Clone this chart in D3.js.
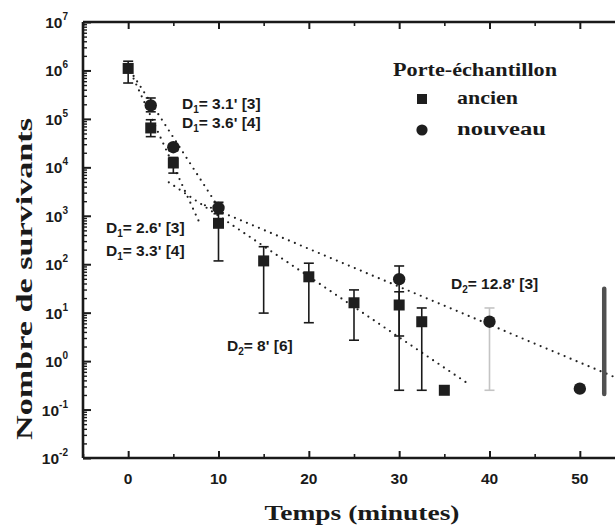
<!DOCTYPE html>
<html>
<head>
<meta charset="utf-8">
<script src="https://cdn.jsdelivr.net/npm/d3@7/dist/d3.min.js"></script>
<style>
  html, body { margin: 0; padding: 0; background: #fff; }
  svg { display: block; }
</style>
</head>
<body>
<svg id="chart" width="615" height="525"></svg>
<script>
// Survivors over time for the two sample holders (log scale)
const xTicks = [0, 10, 20, 30, 40, 50];
const xMinorTicks = [-5, 5, 15, 25, 35, 45];
const yExponents = [-2, -1, 0, 1, 2, 3, 4, 5, 6, 7];

// "ancien" sample holder (squares)
const ancienTimes = [0, 2.5, 5, 10, 15, 20, 25, 30, 32.5, 35];
const ancienValues = [1.1e6, 6.5e4, 1.23e4, 7e2, 117, 55, 16, 14.4, 6.5, 0.25];
const ancienLow = [5.5e5, 4.3e4, 7.6e3, 117, 9.8, 6.2, 2.7, 0.25, 0.25, null];
const ancienHigh = [1.55e6, 9.6e4, 1.6e4, 1.3e3, 230, 105, 29.5, 27, 12.5, null];

// "nouveau" sample holder (circles)
const nouveauTimes = [2.5, 5, 10, 30, 40, 50];
const nouveauValues = [1.9e5, 2.6e4, 1.45e3, 49, 6.5, 0.27];
const nouveauLow = [1.4e5, 2.2e4, 1.1e3, 3.3, 0.25, null];
const nouveauHigh = [2.7e5, 3.0e4, 1.9e3, 92, 12.5, null];

// Detection range bar at the end of the run
const rangeBarTime = 52.7;
const rangeBarLow = 0.21;
const rangeBarHigh = 31;

// Dotted regression segments: [t start, value start, t end, value end]
const fitAncienD1 = [0.3, 9.0e5, 8, 6.5e2];
const fitNouveauD1 = [0.6, 7.7e5, 10, 1.5e3];
const fitAncienD2 = [4.5, 4.9e3, 37.5, 0.355];
const fitNouveauD2 = [8.5, 1.65e3, 55, 0.38];

// Labels for the inactivation constants
const labelTexts = [
  ["1", "= 3.1' [3]"],
  ["1", "= 3.6' [4]"],
  ["1", "= 2.6' [3]"],
  ["1", "= 3.3' [4]"],
  ["2", "= 8' [6]"],
  ["2", "= 12.8' [3]"]
];
const labelPos = [[182, 109], [182, 128], [106, 233], [106, 256], [227, 351], [451, 289]];

const legendTitle = "Porte-échantillon";
const legendNames = ["ancien", "nouveau"];
const xTitle = "Temps (minutes)";
const yTitle = "Nombre de survivants";

const svg = d3.select("#chart");
const ink = "#1a1a1a";

const x = d3.scaleLinear().domain([-5, 55]).range([83, 625]);
const y = d3.scaleLog().domain([1e-2, 1e7]).range([458, 22]);

const sans = "'Liberation Sans', Arial, sans-serif";
const serif = "'Liberation Serif', 'DejaVu Serif', serif";

// ---- axes frame ----
const frame = svg.append("g");
frame.append("line").attr("x1", x(-5)).attr("x2", x(-5)).attr("y1", y(1e7)).attr("y2", y(1e-2))
  .attr("stroke", ink).attr("stroke-width", 2.6);
frame.append("line").attr("x1", x(-5)).attr("x2", x(55)).attr("y1", y(1e-2)).attr("y2", y(1e-2))
  .attr("stroke", ink).attr("stroke-width", 2.6);
frame.append("line").attr("x1", x(-5)).attr("x2", x(55)).attr("y1", y(1e7)).attr("y2", y(1e7))
  .attr("stroke", ink).attr("stroke-width", 2.6);

// left axis: inward ticks, decades and minors
const yMinor = [];
yExponents.slice(0, -1).forEach(e => {
  for (let m = 2; m <= 9; m++) yMinor.push(m * Math.pow(10, e));
});
svg.append("g").attr("transform", `translate(${x(-5)},0)`)
  .call(d3.axisRight(y).tickValues(yExponents.map(e => Math.pow(10, e))).tickSize(8).tickFormat(""))
  .call(g => g.select(".domain").remove())
  .call(g => g.selectAll("line").attr("stroke", ink).attr("stroke-width", 2));
svg.append("g").attr("transform", `translate(${x(-5)},0)`)
  .call(d3.axisRight(y).tickValues(yMinor).tickSize(4).tickFormat(""))
  .call(g => g.select(".domain").remove())
  .call(g => g.selectAll("line").attr("stroke", ink).attr("stroke-width", 1.4));

// y tick labels: 10 with superscript exponent
const yLab = svg.append("g");
yExponents.forEach(e => {
  const t = yLab.append("text")
    .attr("x", 68).attr("y", y(Math.pow(10, e)) + 6)
    .attr("text-anchor", "end")
    .attr("font-family", sans).attr("font-weight", "bold").attr("font-size", 15.5)
    .attr("fill", ink);
  t.append("tspan").text("10");
  t.append("tspan").attr("dy", -8).attr("font-size", 10).text(String(e));
});

// bottom axis
svg.append("g").attr("transform", `translate(0,${y(1e-2)})`)
  .call(d3.axisTop(x).tickValues(xTicks).tickSize(7).tickFormat(""))
  .call(g => g.select(".domain").remove())
  .call(g => g.selectAll("line").attr("stroke", ink).attr("stroke-width", 2));
svg.append("g").attr("transform", `translate(0,${y(1e-2)})`)
  .call(d3.axisTop(x).tickValues(xMinorTicks).tickSize(4).tickFormat(""))
  .call(g => g.select(".domain").remove())
  .call(g => g.selectAll("line").attr("stroke", ink).attr("stroke-width", 1.6));
// top axis, mirrored ticks
svg.append("g").attr("transform", `translate(0,${y(1e7)})`)
  .call(d3.axisBottom(x).tickValues(xTicks).tickSize(7).tickFormat(""))
  .call(g => g.select(".domain").remove())
  .call(g => g.selectAll("line").attr("stroke", ink).attr("stroke-width", 2));
svg.append("g").attr("transform", `translate(0,${y(1e7)})`)
  .call(d3.axisBottom(x).tickValues(xMinorTicks).tickSize(4).tickFormat(""))
  .call(g => g.select(".domain").remove())
  .call(g => g.selectAll("line").attr("stroke", ink).attr("stroke-width", 1.6));

svg.append("g").selectAll("text").data(xTicks).join("text")
  .attr("x", d => x(d)).attr("y", 484)
  .attr("text-anchor", "middle")
  .attr("font-family", sans).attr("font-weight", "bold").attr("font-size", 15.5)
  .attr("fill", ink).text(d => d);

// axis titles
svg.append("text").attr("x", 362).attr("y", 520)
  .attr("text-anchor", "middle")
  .attr("font-family", serif).attr("font-weight", "bold").attr("font-size", 22)
  .attr("textLength", 195).attr("lengthAdjust", "spacingAndGlyphs")
  .attr("fill", ink).text(xTitle);
svg.append("text")
  .attr("transform", `translate(32,279) rotate(-90)`)
  .attr("text-anchor", "middle")
  .attr("font-family", serif).attr("font-weight", "bold").attr("font-size", 23)
  .attr("textLength", 322).attr("lengthAdjust", "spacingAndGlyphs")
  .attr("fill", ink).text(yTitle);

// ---- dotted fits ----
const plot = svg.append("g");
[fitAncienD1, fitNouveauD1, fitAncienD2, fitNouveauD2].forEach(f => {
  plot.append("line")
    .attr("x1", x(f[0])).attr("y1", y(f[1]))
    .attr("x2", x(f[2])).attr("y2", y(f[3]))
    .attr("stroke", "#222").attr("stroke-width", 2.2)
    .attr("stroke-linecap", "round").attr("stroke-dasharray", "0 6.5");
});

// ---- error bars ----
function errorBars(times, low, high, fadedTime) {
  times.forEach((t, i) => {
    if (low[i] == null) return;
    const col = t === fadedTime ? "#c4c4c4" : ink;
    const g = plot.append("g").attr("stroke", col).attr("stroke-width", 1.6);
    g.append("line").attr("x1", x(t)).attr("x2", x(t)).attr("y1", y(low[i])).attr("y2", y(high[i]));
    [low[i], high[i]].forEach(v => {
      g.append("line").attr("x1", x(t) - 5).attr("x2", x(t) + 5).attr("y1", y(v)).attr("y2", y(v));
    });
  });
}
errorBars(ancienTimes, ancienLow, ancienHigh, null);
errorBars(nouveauTimes, nouveauLow, nouveauHigh, 40);

plot.append("line")
  .attr("x1", x(rangeBarTime)).attr("x2", x(rangeBarTime))
  .attr("y1", y(rangeBarLow)).attr("y2", y(rangeBarHigh))
  .attr("stroke", "#505050").attr("stroke-width", 4.5).attr("stroke-linecap", "round");

// ---- markers ----
const sq = 11;
plot.selectAll("rect.ancien").data(ancienTimes).join("rect")
  .attr("class", "ancien")
  .attr("x", (d) => x(d) - sq / 2)
  .attr("y", (d, i) => y(ancienValues[i]) - sq / 2)
  .attr("width", sq).attr("height", sq)
  .attr("fill", "#1e1e1e");
plot.selectAll("circle.nouveau").data(nouveauTimes).join("circle")
  .attr("class", "nouveau")
  .attr("cx", d => x(d))
  .attr("cy", (d, i) => y(nouveauValues[i]))
  .attr("r", 6.2)
  .attr("fill", "#1e1e1e");

// ---- D labels ----
labelTexts.forEach((lt, i) => {
  const t = svg.append("text")
    .attr("x", labelPos[i][0]).attr("y", labelPos[i][1])
    .attr("font-family", sans).attr("font-weight", "bold").attr("font-size", 15.5)
    .attr("fill", ink);
  t.append("tspan").text("D");
  t.append("tspan").attr("dy", 4).attr("font-size", 10).text(lt[0]);
  t.append("tspan").attr("dy", -4).text(lt[1]);
});

// ---- legend ----
const lg = svg.append("g");
lg.append("text").attr("x", 475).attr("y", 76)
  .attr("text-anchor", "middle")
  .attr("font-family", serif).attr("font-weight", "bold").attr("font-size", 19)
  .attr("textLength", 164).attr("lengthAdjust", "spacingAndGlyphs")
  .attr("fill", ink).text(legendTitle);
lg.append("rect").attr("x", 417).attr("y", 94).attr("width", 10).attr("height", 10).attr("fill", "#1e1e1e");
lg.append("circle").attr("cx", 422).attr("cy", 130).attr("r", 5.6).attr("fill", "#1e1e1e");
const legendWidths = [61, 89];
legendNames.forEach((n, i) => {
  lg.append("text").attr("x", 457).attr("y", 104 + i * 31)
    .attr("font-family", serif).attr("font-weight", "bold").attr("font-size", 19)
    .attr("textLength", legendWidths[i]).attr("lengthAdjust", "spacingAndGlyphs")
    .attr("fill", ink).text(n);
});
</script>
</body>
</html>
